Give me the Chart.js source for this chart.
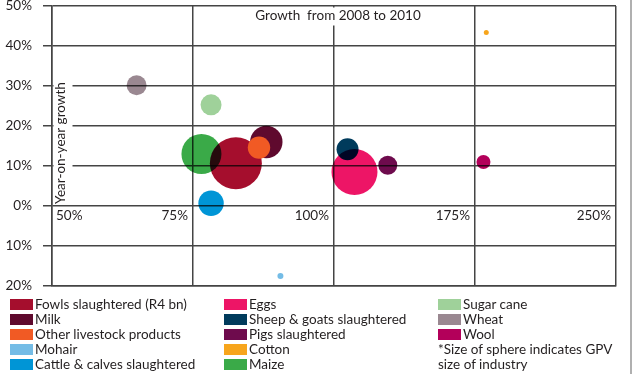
<!DOCTYPE html>
<html>
<head>
<meta charset="utf-8">
<script src="https://cdn.jsdelivr.net/npm/chart.js@4.4.1/dist/chart.umd.min.js"></script>
<style>
  html, body { margin: 0; padding: 0; background: #fff; }
  body { width: 633px; height: 374px; position: relative; overflow: hidden; font-family: Lato, sans-serif; }
  #wrap { position: absolute; left: 0; top: 0; width: 633px; height: 292px; }
  #legend { position: absolute; left: 0; top: 0; width: 633px; height: 374px; font-size: 13.5px; color: #231f20; pointer-events: none; }
  .item { position: absolute; height: 15px; line-height: 15px; white-space: nowrap; }
  .box { position: absolute; left: 0; top: 2px; width: 23px; height: 11px; }
  .txt { position: absolute; left: 25px; top: 0; }
  #edge { position: absolute; left: 630px; top: 0; width: 2px; height: 374px; background: #b0b0b0; }
</style>
</head>
<body>
<div id="wrap"><canvas id="chart" width="633" height="292"></canvas></div>
<div id="legend"></div>
<div id="edge"></div>
<script>
// commodities, in legend order (column by column)
const categories = [
  'Fowls slaughtered (R4 bn)', 'Milk', 'Other livestock products', 'Mohair', 'Cattle & calves slaughtered',
  'Eggs', 'Sheep & goats slaughtered', 'Pigs slaughtered', 'Cotton', 'Maize',
  'Sugar cane', 'Wheat', 'Wool'
];
// growth from 2008 to 2010 (%)
const growthPct = [82.6, 88, 86.7, 90.5, 78.2, 110.9, 107.2, 128.6, 181, 76.5, 78.2, 65, 179.5];
// year-on-year growth (%)
const yoyPct = [10.7, 16.0, 14.6, -17.5, 0.7, 8.5, 14.2, 10.2, 43.4, 13.0, 25.3, 30.2, 11.0];
// sphere size ~ GPV size of industry
const gpvSize = [26, 16.2, 11.2, 3, 12.7, 23, 11, 9.5, 2.5, 20, 10.5, 10, 7];

const colors = [
  '#a50e2d', '#5f0a2e', '#f15a24', '#74bce6', '#0095d6',
  '#ed1566', '#003b5c', '#6e0b4d', '#f7a51c', '#3aaa48',
  '#9fd19a', '#9a8891', '#b3005a'
];

// x axis is not linear: equal spacing between these growth steps
const xTickValues = [50, 75, 100, 175, 250];
const xTickLabels = ['50%', '75%', '100%', '175%', '250%'];
const yTickValues = [-20, -10, 0, 10, 20, 30, 40, 50];

const FONT = 'Lato, sans-serif';
const GRID = '#444';

function toAxis(g) {
  for (let i = 0; i < xTickValues.length - 1; i++) {
    if (g <= xTickValues[i + 1]) {
      return i + (g - xTickValues[i]) / (xTickValues[i + 1] - xTickValues[i]);
    }
  }
  return xTickValues.length - 1;
}

const datasets = categories.map((name, i) => ({
  label: name,
  data: [{ x: toAxis(growthPct[i]), y: yoyPct[i], r: gpvSize[i] }],
  backgroundColor: colors[i],
  borderWidth: 0,
  hoverBorderWidth: 0,
  hoverRadius: 0,
  clip: false,
  order: name === 'Other livestock products' ? -1 : 0
}));

// bubbles are multiplied over the grid, the orange one sits on top
const blend = {
  id: 'blend',
  beforeDatasetDraw(chart, args) {
    chart.ctx.save();
    if (args.meta.label !== 'Other livestock products') {
      chart.ctx.globalCompositeOperation = 'multiply';
    }
  },
  afterDatasetDraw(chart) {
    chart.ctx.restore();
  }
};

const labels = {
  id: 'labels',
  afterDatasetsDraw(chart) {
    const { ctx, scales: { x, y }, chartArea } = chart;
    ctx.save();
    ctx.font = '13.5px ' + FONT;
    ctx.fillStyle = '#231f20';
    ctx.textBaseline = 'middle';

    // x tick labels sit on the 0% line
    const ly = y.getPixelForValue(0) + 10;
    xTickLabels.forEach((t, i) => {
      const px = x.getPixelForValue(i);
      ctx.textAlign = i === 0 ? 'left' : 'right';
      ctx.fillText(t, i === 0 ? px + 4 : px - 5, ly);
    });

    // x title at the top
    const title = 'Growth  from 2008 to 2010';
    const tx = x.getPixelForValue(2) + 4;
    const tw = ctx.measureText(title).width;
    ctx.fillStyle = '#fff';
    ctx.fillRect(tx - tw / 2 - 4, chartArea.top + 1.5, tw + 8, 18);
    ctx.fillStyle = '#231f20';
    ctx.textAlign = 'center';
    ctx.fillText(title, tx, chartArea.top + 10);

    // y title, rotated, inside the plot
    const ytitle = 'Year-on-year growth';
    const yw = ctx.measureText(ytitle).width;
    const cx = chartArea.left + 9;
    const cy = y.getPixelForValue(0) - 2 - yw / 2;
    ctx.fillStyle = '#fff';
    ctx.fillRect(chartArea.left + 1.5, cy - yw / 2 - 1, 19, yw + 2);
    ctx.save();
    ctx.translate(cx, cy);
    ctx.rotate(-Math.PI / 2);
    ctx.fillStyle = '#231f20';
    ctx.fillText(ytitle, 0, 0);
    ctx.restore();
    ctx.restore();
  }
};

new Chart(document.getElementById('chart'), {
  type: 'bubble',
  data: { datasets: datasets },
  options: {
    responsive: false,
    animation: false,
    devicePixelRatio: 1,
    layout: { autoPadding: false, padding: { top: 6, bottom: 6, left: 0, right: 17 } },
    plugins: {
      legend: { display: false },
      tooltip: {
        callbacks: {
          label: function(item) {
            return item.dataset.label + ': ' + growthPct[item.datasetIndex] + '%, ' + yoyPct[item.datasetIndex] + '%';
          }
        }
      }
    },
    scales: {
      x: {
        type: 'linear',
        min: 0,
        max: xTickValues.length - 1,
        ticks: { display: false, stepSize: 1 },
        grid: { color: GRID, lineWidth: 1.5, drawTicks: false },
        border: { color: GRID, width: 1.5 },
        afterFit: function(s) { s.height = 0; s.paddingLeft = 0; s.paddingRight = 0; }
      },
      y: {
        type: 'linear',
        min: yTickValues[0],
        max: yTickValues[yTickValues.length - 1],
        afterBuildTicks: function(s) { s.ticks = yTickValues.map(v => ({ value: v })); },
        ticks: {
          color: '#231f20',
          font: { family: FONT, size: 13.5 },
          padding: 11,
          callback: v => Math.abs(v) + '%'
        },
        grid: { color: GRID, lineWidth: 1.5, tickLength: 9 },
        border: { color: GRID, width: 1.5 },
        afterFit: function(s) { s.width = 52; s.paddingTop = 0; s.paddingBottom = 0; }
      }
    }
  },
  plugins: [blend, labels]
});

// legend: three columns of five rows, plus the size note
const legend = document.getElementById('legend');
const colX = [10, 224, 438];
const rowY = 297;
categories.forEach((name, i) => {
  const el = document.createElement('div');
  el.className = 'item';
  el.style.left = colX[Math.floor(i / 5)] + 'px';
  el.style.top = (rowY + 15 * (i % 5)) + 'px';
  el.innerHTML = '<span class="box" style="background:' + colors[i] + '"></span><span class="txt"></span>';
  el.querySelector('.txt').textContent = name;
  legend.appendChild(el);
});
['*Size of sphere indicates GPV', 'size of industry'].forEach((line, k) => {
  const el = document.createElement('div');
  el.className = 'item';
  el.style.left = colX[2] + 'px';
  el.style.top = (rowY + 15 * (3 + k)) + 'px';
  el.textContent = line;
  legend.appendChild(el);
});
</script>
</body>
</html>
